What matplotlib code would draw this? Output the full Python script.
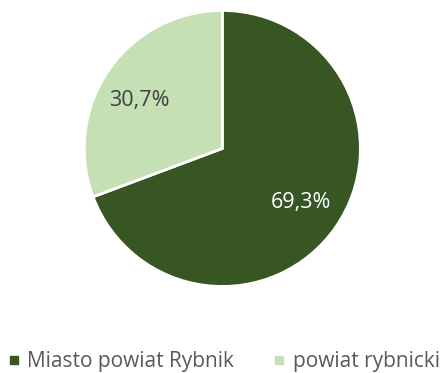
import matplotlib.pyplot as plt
from matplotlib.lines import Line2D

labels = ["Miasto powiat Rybnik", "powiat rybnicki"]
values = [69.3, 30.7]
colors = ["#375623", "#C5E0B4"]
text_colors = ["white", "#404040"]
# label positions in radius units (Excel places them slightly off the bisector)
label_pos = [(0.569, -0.391), (-0.598, 0.344)]

plt.rcParams['font.family'] = ['Open Sans', 'DejaVu Sans']

fig = plt.figure(figsize=(4.46, 3.73), dpi=100)
ax = fig.add_axes([0.189, 0.232, 0.619, 0.740])

wedges, texts, autotexts = ax.pie(
    values, colors=colors, startangle=90, counterclock=False,
    autopct=lambda p: ("%.1f%%" % p).replace(".", ","), pctdistance=0.71,
    wedgeprops=dict(edgecolor="white", linewidth=2), radius=1)
for t, c, pos in zip(autotexts, text_colors, label_pos):
    t.set_color(c)
    t.set_fontsize(15.5)
    t.set_position(pos)
ax.set_xlim(-1, 1)
ax.set_ylim(-1, 1)
ax.set_aspect('auto')

handles = [Line2D([], [], marker='s', ls='', color=c, markersize=6) for c in colors]
fig.legend(handles, labels, loc='center', bbox_to_anchor=(0.5, 0.03), ncol=2,
           frameon=False, fontsize=15, handletextpad=0.3, columnspacing=1.8,
           labelcolor="#595959", handlelength=0.7)

fig.savefig("out.png", dpi=100)
